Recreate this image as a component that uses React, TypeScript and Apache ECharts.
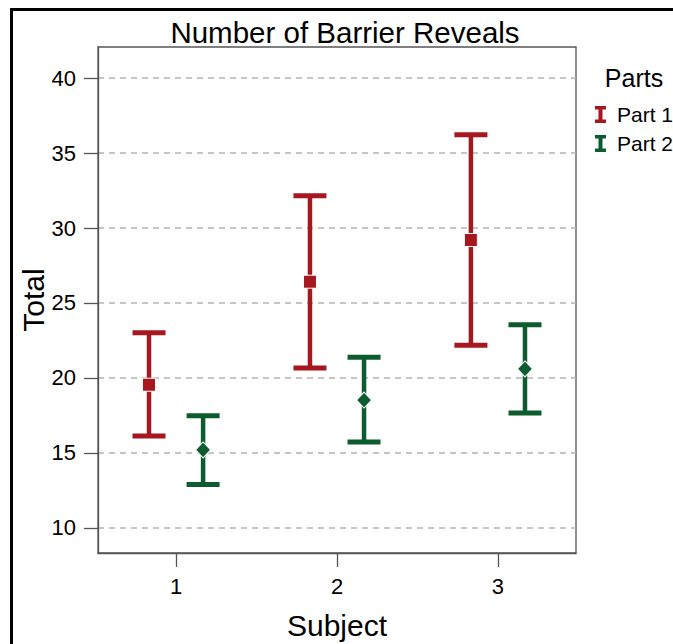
import React, { useEffect, useRef } from "react";
import * as echarts from "echarts";

const subjects = [1, 2, 3];
const tickLabelsX = ["1", "2", "3"];
const yTicks = [10, 15, 20, 25, 30, 35, 40];

const part1Mean = [19.55, 26.42, 29.2];
const part1Low = [16.13, 20.67, 22.18];
const part1High = [23.02, 32.15, 36.22];

const part2Mean = [15.2, 18.53, 20.6];
const part2Low = [12.89, 15.73, 17.67];
const part2High = [17.49, 21.38, 23.55];

const RED = "#a6171f";
const GREEN = "#0d5c2f";
const OFFSET = 0.168;
const FONT = "Liberation Sans, Arial, sans-serif";

function errorBarRender(params: any, api: any) {
  const x = api.value(0);
  const lo = api.value(1);
  const hi = api.value(2);
  const pLo = api.coord([x, lo]);
  const pHi = api.coord([x, hi]);
  const color = api.visual("color");
  const half = 16.5;
  return {
    type: "group",
    children: [
      {
        type: "line",
        shape: { x1: pHi[0], y1: pHi[1], x2: pLo[0], y2: pLo[1] },
        style: { stroke: color, lineWidth: 4.5 },
      },
      {
        type: "line",
        shape: { x1: pHi[0] - half, y1: pHi[1], x2: pHi[0] + half, y2: pHi[1] },
        style: { stroke: color, lineWidth: 5 },
      },
      {
        type: "line",
        shape: { x1: pLo[0] - half, y1: pLo[1], x2: pLo[0] + half, y2: pLo[1] },
        style: { stroke: color, lineWidth: 5 },
      },
    ],
  };
}

export default function App() {
  const ref = useRef<HTMLDivElement>(null);
  useEffect(() => {
    if (!ref.current) return;
    const chart = echarts.init(ref.current, null, { renderer: "svg" });
    const bars1 = subjects.map((s, i) => [s - OFFSET, part1Low[i], part1High[i]]);
    const bars2 = subjects.map((s, i) => [s + OFFSET, part2Low[i], part2High[i]]);
    const means1 = subjects.map((s, i) => [s - OFFSET, part1Mean[i]]);
    const means2 = subjects.map((s, i) => [s + OFFSET, part2Mean[i]]);
    chart.setOption({
      animation: false,
      backgroundColor: "#fff",
      textStyle: { fontFamily: FONT },
      graphic: [
        {
          type: "rect",
          silent: true,
          shape: { x: 11.5, y: 9.5, width: 700, height: 700 },
          style: { fill: "none", stroke: "#000", lineWidth: 3 },
        },
        {
          type: "text",
          x: 345,
          y: 32,
          style: {
            text: "Number of Barrier Reveals",
            fill: "#000",
            font: `29.5px ${FONT}`,
            textAlign: "center",
            textVerticalAlign: "middle",
          },
        },
        {
          type: "text",
          x: 634,
          y: 78,
          style: {
            text: "Parts",
            fill: "#000",
            font: `25px ${FONT}`,
            textAlign: "center",
            textVerticalAlign: "middle",
          },
        },
      ],
      legend: {
        orient: "vertical",
        left: 595,
        top: 104,
        padding: 0,
        itemGap: 8,
        itemWidth: 11,
        itemHeight: 17,
        icon: "path://M0,0H11V3.5H7.5V13.5H11V17H0V13.5H3.5V3.5H0Z",
        data: ["Part 1", "Part 2"],
        textStyle: { fontSize: 21, color: "#000", fontFamily: FONT, padding: [0, 0, 0, 6] },
      },
      grid: {
        left: 98,
        right: 97,
        top: 47,
        bottom: 91,
        outerBoundsMode: "none",
        containLabel: false,
        show: true,
        borderColor: "#555",
        borderWidth: 1.3,
        backgroundColor: "#fff",
      },
      xAxis: {
        type: "value",
        min: 0.515,
        max: 3.485,
        name: "Subject",
        nameLocation: "middle",
        nameGap: 57,
        nameMoveOverlap: false,
        nameTextStyle: { fontSize: 30, color: "#000", fontFamily: FONT },
        axisLine: { show: true, lineStyle: { color: "#555", width: 1.3 } },
        axisTick: { show: true, length: 14, customValues: subjects, lineStyle: { color: "#555", width: 1.3 } },
        axisLabel: {
          customValues: subjects,
          margin: 22,
          fontSize: 22,
          color: "#000",
          fontFamily: FONT,
          formatter: (v: number) => tickLabelsX[subjects.indexOf(Math.round(v))] ?? "",
        },
        splitLine: { show: false },
      },
      yAxis: {
        type: "value",
        min: 8.33,
        max: 42.07,
        name: "Total",
        nameLocation: "middle",
        nameGap: 50,
        nameMoveOverlap: false,
        nameTextStyle: { fontSize: 30, color: "#000", fontFamily: FONT },
        axisLine: { show: true, lineStyle: { color: "#555", width: 1.3 } },
        axisTick: { show: true, length: 14, customValues: yTicks, lineStyle: { color: "#555", width: 1.3 } },
        axisLabel: { customValues: yTicks, margin: 22, fontSize: 22, color: "#000", fontFamily: FONT },
        splitLine: { show: true, lineStyle: { color: "#b4b4b4", type: [6, 5], width: 1.5 } },
      },
      series: [
        {
          name: "Part 1",
          type: "custom",
          renderItem: errorBarRender,
          itemStyle: { color: RED },
          encode: { x: 0, y: [1, 2] },
          data: bars1,
          z: 2,
        },
        {
          name: "Part 2",
          type: "custom",
          renderItem: errorBarRender,
          itemStyle: { color: GREEN },
          encode: { x: 0, y: [1, 2] },
          data: bars2,
          z: 2,
        },
        {
          name: "Part 1",
          type: "scatter",
          symbol: "rect",
          symbolSize: 13,
          itemStyle: { color: RED, borderColor: "#fff", borderWidth: 1, opacity: 1 },
          data: means1,
          z: 3,
        },
        {
          name: "Part 2",
          type: "scatter",
          symbol: "diamond",
          symbolSize: [15, 16],
          itemStyle: { color: GREEN, borderColor: "#fff", borderWidth: 1, opacity: 1 },
          data: means2,
          z: 3,
        },
      ],
    });
    return () => chart.dispose();
  }, []);
  return (
    <div
      ref={ref}
      style={{ position: "fixed", left: 0, top: 0, width: 673, height: 644 }}
    />
  );
}
